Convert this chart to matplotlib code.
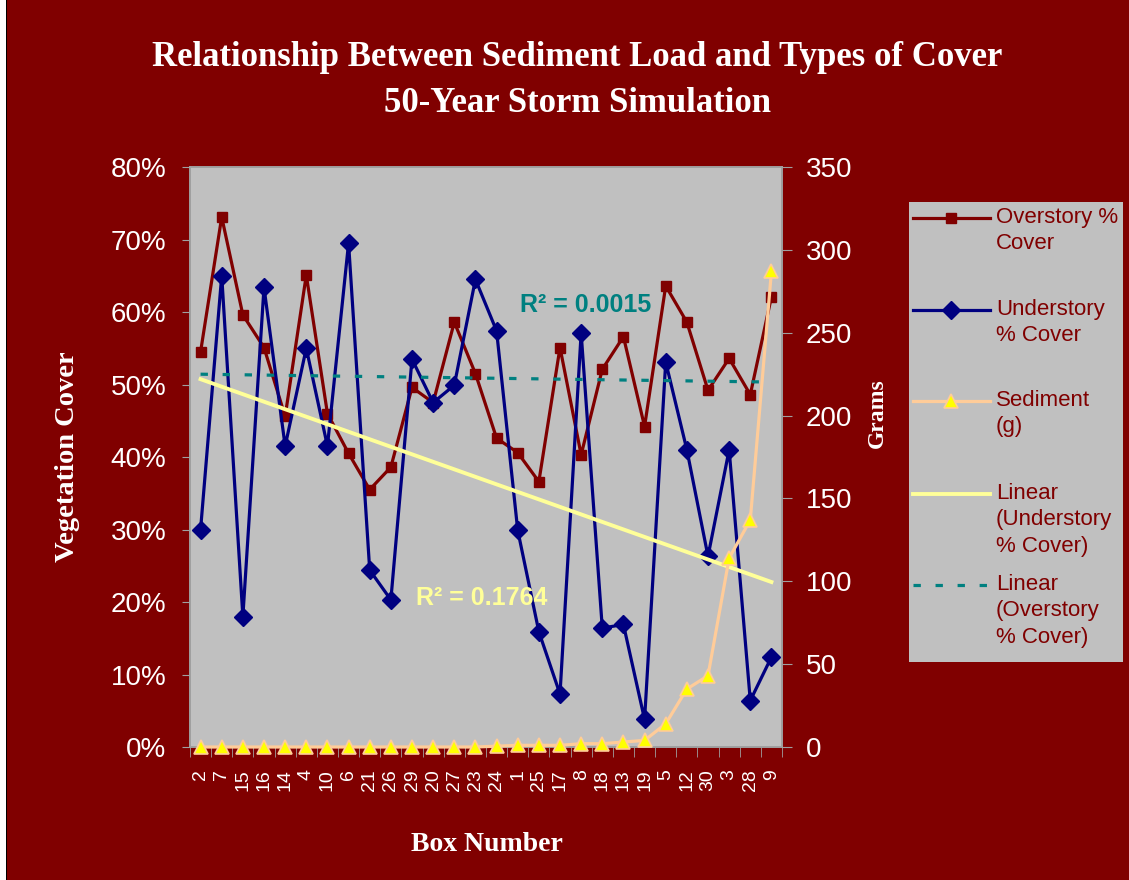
import numpy as np
import matplotlib
matplotlib.use("Agg")
import matplotlib.pyplot as plt
from matplotlib.lines import Line2D
from matplotlib.patches import Rectangle

plt.rcParams["font.family"] = ["Liberation Sans", "DejaVu Sans"]

# box numbers in the order they were run
boxes = ["2", "7", "15", "16", "14", "4", "10", "6", "21", "26", "29", "20", "27", "23",
         "24", "1", "25", "17", "8", "18", "13", "19", "5", "12", "30", "3", "28", "9"]

# vegetation cover (%)
overstory = [54.5, 73.1, 59.6, 55.1, 45.6, 65.1, 46.0, 40.5, 35.5, 38.6, 49.6, 47.5, 58.6, 51.5,
             42.6, 40.6, 36.6, 55.1, 40.3, 52.1, 56.6, 44.2, 63.6, 58.6, 49.2, 53.6, 48.6, 62.1]
understory = [30.0, 65.0, 18.0, 63.4, 41.5, 55.0, 41.5, 69.5, 24.4, 20.3, 53.5, 47.5, 49.9, 64.5,
              57.4, 29.9, 15.9, 7.3, 57.1, 16.4, 16.9, 3.8, 53.1, 41.0, 26.3, 41.0, 6.4, 12.4]

# sediment collected (g)
sediment = [0, 0, 0, 0, 0, 0, 0, 0, 0, 0, 0, 0, 0, 0,
            0.5, 1, 1, 1, 2, 2, 3, 4, 14, 35, 43, 114, 137, 287]

BG = "#800000"
PLOT_BG = "#C0C0C0"
W, H = 1129, 880


def px(x, y):
    # figure fraction from pixel position (origin top-left)
    return x / W, 1 - y / H


fig = plt.figure(figsize=(W / 100, H / 100), dpi=100, facecolor=BG)
fig.patches.append(Rectangle((0, 0), 6 / W, 1, transform=fig.transFigure,
                             facecolor="white", edgecolor="none"))
fig.patches.append(Rectangle((6 / W, 0), 1.5 / W, 1, transform=fig.transFigure,
                             facecolor="black", edgecolor="none"))

ax = fig.add_axes([190 / W, 1 - 747 / H, 592 / W, 580 / H], facecolor=PLOT_BG)
x = np.arange(1, len(boxes) + 1)

ax.plot(x, overstory, color="#800000", lw=2.3, marker="s", ms=7.5, zorder=3)
ax.plot(x, understory, color="#000080", lw=2.3, marker="D", ms=9.0, zorder=4)

# least-squares trend lines
m_u, c_u = np.polyfit(x, understory, 1)
m_o, c_o = np.polyfit(x, overstory, 1)
ax.plot(x, m_u * x + c_u, color="#FFFF99", lw=2.8, zorder=5)
ax.plot(x, m_o * x + c_o, color="#008080", lw=2.3, ls=(0, (2.3, 4.6)), zorder=5)

ax.text(19.2, 61.0, "R² = 0.0015", color="#008080", fontsize=18, fontweight="bold",
        ha="center", va="center", zorder=6)
ax.text(14.3, 20.6, "R² = 0.1764", color="#FFFF99", fontsize=18, fontweight="bold",
        ha="center", va="center", zorder=6)

ax.set_xlim(0.5, len(boxes) + 0.5)
ax.set_ylim(0, 80)
ax.set_yticks(np.arange(0, 81, 10))
ax.set_yticklabels([f"{v}%" for v in range(0, 81, 10)])
ax.set_xticks(x)
ax.set_xticklabels(boxes, rotation=90)
ax.set_xticks(np.arange(0.5, len(boxes) + 1), minor=True)
ax.tick_params(axis="x", which="major", length=0, pad=16, labelsize=14, colors="white")
ax.tick_params(axis="x", which="minor", length=7, color="#A0A0A0", direction="out")
ax.tick_params(axis="y", length=6, pad=11, labelsize=20, colors="white", color="#A0A0A0")
for s in ax.spines.values():
    s.set_color("#A0A0A0")
    s.set_linewidth(1.2)

ax2 = ax.twinx()
ax2.plot(x, sediment, color="#FFCC99", lw=2.3, marker="^", ms=10, clip_on=False,
         markerfacecolor="#FFFF00", markeredgecolor="#FFCC99", markeredgewidth=1.2, zorder=6)
ax2.set_ylim(0, 350)
ax2.set_yticks(np.arange(0, 351, 50))
ax2.tick_params(axis="y", length=7, pad=10, labelsize=20, colors="white", color="#A0A0A0")
for s in ax2.spines.values():
    s.set_color("#A0A0A0")
    s.set_linewidth(1.2)
ax2.set_zorder(ax.get_zorder() + 1)
ax2.patch.set_visible(False)

# titles and axis names
fig.text(*px(577, 57), "Relationship Between Sediment Load and Types of Cover",
         family="Liberation Serif", fontweight="bold", fontsize=25, color="white",
         ha="center", va="center")
fig.text(*px(577, 103), "50-Year Storm Simulation",
         family="Liberation Serif", fontweight="bold", fontsize=25, color="white",
         ha="center", va="center")
fig.text(*px(68, 457), "Vegetation Cover", family="Liberation Serif", fontweight="bold",
         fontsize=20.5, color="white", rotation=90, ha="center", va="center")
fig.text(*px(877, 413), "Grams", family="Liberation Serif", fontweight="bold",
         fontsize=17, color="white", rotation=90, ha="center", va="center")
fig.text(*px(487, 844), "Box Number", family="Liberation Serif", fontweight="bold",
         fontsize=20, color="white", ha="center", va="center")

# legend box
lx0, ly0, lw, lh = 909, 202, 214, 460
lg = fig.add_axes([lx0 / W, 1 - (ly0 + lh) / H, lw / W, lh / H], facecolor=PLOT_BG)
lg.set_xlim(0, lw)
lg.set_ylim(lh, 0)
lg.set_xticks([])
lg.set_yticks([])
for s in lg.spines.values():
    s.set_visible(False)

entries = [
    (16, dict(color="#800000", lw=2.3, marker="s", ms=7.5), ["Overstory %", "Cover"]),
    (108, dict(color="#000080", lw=2.3, marker="D", ms=9.0), ["Understory", "% Cover"]),
    (199, dict(color="#FFCC99", lw=2.3, marker="^", ms=10, markerfacecolor="#FFFF00",
               markeredgecolor="#FFCC99", markeredgewidth=1.2), ["Sediment", "(g)"]),
    (292, dict(color="#FFFF99", lw=2.8), ["Linear", "(Understory", "% Cover)"]),
    (383, dict(color="#008080", lw=2.3, ls=(0, (2.3, 4.6))), ["Linear", "(Overstory", "% Cover)"]),
]
for ey, style, lines in entries:
    lg.add_line(Line2D([4, 81], [ey, ey], **{k: v for k, v in style.items()
                                             if not k.startswith("marker") and k != "ms"}))
    if "marker" in style:
        lg.add_line(Line2D([42], [ey], ls="none", **{k: v for k, v in style.items()
                                                      if k.startswith("marker") or k in ("ms", "color")}))
    for i, line in enumerate(lines):
        lg.text(87, ey - 1 + i * 26.7, line, color="#800000", fontsize=16,
                ha="left", va="center")

fig.savefig("out.png", dpi=100, facecolor=BG)
